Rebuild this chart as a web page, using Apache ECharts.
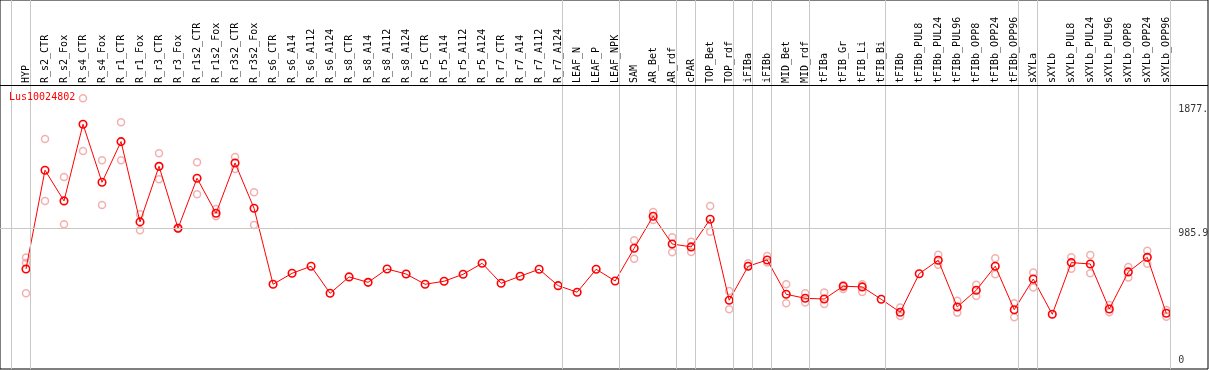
<!DOCTYPE html>
<html>
<head>
<meta charset="utf-8">
<script src="https://cdn.jsdelivr.net/npm/echarts@6/dist/echarts.min.js"></script>
<style>
html,body{margin:0;padding:0;background:#fff;}
#chart{width:1209px;height:370px;}
</style>
</head>
<body>
<div id="chart"></div>
<script>
const geneName = 'Lus10024802';
const categories = ['HYP','R_s2_CTR','R_s2_Fox','R_s4_CTR','R_s4_Fox','R_r1_CTR','R_r1_Fox','R_r3_CTR','R_r3_Fox','R_r1s2_CTR','R_r1s2_Fox','R_r3s2_CTR','R_r3s2_Fox','R_s6_CTR','R_s6_A14','R_s6_A112','R_s6_A124','R_s8_CTR','R_s8_A14','R_s8_A112','R_s8_A124','R_r5_CTR','R_r5_A14','R_r5_A112','R_r5_A124','R_r7_CTR','R_r7_A14','R_r7_A112','R_r7_A124','LEAF_N','LEAF_P','LEAF_NPK','SAM','AR_Bet','AR_rdf','cPAR','TOP_Bet','TOP_rdf','iFIBa','iFIBb','MID_Bet','MID_rdf','tFIBa','tFIB_Gr','tFIB_Li','tFIB_Bi','tFIBb','tFIBb_PUL8','tFIBb_PUL24','tFIBb_PUL96','tFIBb_OPP8','tFIBb_OPP24','tFIBb_OPP96','sXYLa','sXYLb','sXYLb_PUL8','sXYLb_PUL24','sXYLb_PUL96','sXYLb_OPP8','sXYLb_OPP24','sXYLb_OPP96'];
const mainValues = [693,1404,1183,1735,1317,1610,1032,1432,986,1346,1094,1456,1130,583,662,713,518,636,597,693,657,583,605,655,734,590,641,691,573,526,691,607,842,1073,873,852,1051,468,713,758,511,482,477,569,564,475,382,659,756,420,540,713,400,621,367,739,729,405,672,777,374];
const repHigh = [775,1629,1355,1922,1476,1749,1087,1526,990,1461,1125,1499,1245,null,null,null,null,null,null,null,null,null,null,null,null,null,null,null,null,null,null,null,900,1104,921,890,1147,535,734,787,583,518,523,578,583,null,415,null,796,465,580,770,446,667,null,777,794,434,708,825,398];
const repLow = [518,1183,1015,1543,1154,1476,972,1339,982,1231,1073,1413,1010,null,null,null,null,null,null,null,null,null,null,null,null,null,null,null,null,null,null,null,767,1046,813,816,962,403,715,739,446,451,441,549,528,null,355,null,724,379,499,655,346,559,null,695,662,382,631,731,350];
const repExtra = [736];
const tickValues = [0, 985.9, 1877];
const tickLabels = ['0', '985.9', '1877.'];
const groupEnds = [-1, 0, 28, 31, 34, 35, 37, 38, 39, 41, 45, 52, 53, 60];
const refLineValue = 985.9;

const mono = 'DejaVu Sans Mono';
const pinkPts = [];
[repHigh, repLow, repExtra].forEach(arr => arr.forEach((v, i) => { if (v != null) pinkPts.push([i, v]); }));
const mainPts = mainValues.map((v, i) => [i, v]);
const sepOffset = 0.23;
const xMin = -1.368, xMax = 62.194;
const lastSep = groupEnds[groupEnds.length - 1] + sepOffset;

const chart = echarts.init(document.getElementById('chart'), null, {renderer: 'canvas'});
chart.setOption({
  animation: false,
  backgroundColor: '#fff',
  title: {
    text: geneName, left: 9, top: 92, padding: 0,
    textStyle: {color: '#ff0000', fontSize: 10, fontWeight: 'normal', fontFamily: mono}
  },
  grid: [
    {left: 0, top: 0, right: 1, bottom: 1, show: true, borderColor: '#000', borderWidth: 1},
    {left: 26, right: 42.7, top: 85, height: 1}
  ],
  xAxis: [
    {type: 'value', gridIndex: 0, min: xMin, max: xMax, show: false},
    {type: 'category', gridIndex: 1, data: categories, boundaryGap: false, position: 'top',
     axisLine: {show: false}, axisTick: {show: false}, splitLine: {show: false},
     axisLabel: {rotate: 90, interval: 0, margin: 2, fontFamily: mono, fontSize: 10, color: '#000'}}
  ],
  yAxis: [
    {type: 'value', gridIndex: 0, min: -26.8, max: 2629.2, show: false},
    {type: 'value', gridIndex: 1, show: false}
  ],
  series: [
    {
      type: 'scatter', xAxisIndex: 0, yAxisIndex: 0, z: 2,
      data: pinkPts, symbol: 'circle', symbolSize: 7,
      itemStyle: {color: 'rgba(0,0,0,0)', borderColor: '#f09c9c', borderWidth: 1.5},
      markLine: {
        silent: true, symbol: 'none', animation: false, label: {show: false},
        data: [
          ...groupEnds.map(g => ({xAxis: g + sepOffset, lineStyle: {color: '#c8c8c8', width: 1, type: 'solid'}})),
          [{coord: [xMin, refLineValue], lineStyle: {color: '#c8c8c8', width: 1, type: 'solid'}}, {coord: [lastSep, refLineValue]}],
          {yAxis: 2017.3, lineStyle: {color: '#000', width: 1, type: 'solid'}}
        ]
      }
    },
    {
      type: 'line', xAxisIndex: 0, yAxisIndex: 0, z: 3,
      data: mainPts, symbol: 'circle', symbolSize: 7.5, showAllSymbol: true,
      lineStyle: {color: '#ff0000', width: 1},
      itemStyle: {color: 'rgba(0,0,0,0)', borderColor: '#ff0000', borderWidth: 1.6}
    },
    {
      type: 'scatter', xAxisIndex: 0, yAxisIndex: 0, z: 4, silent: true,
      symbolSize: 0,
      data: tickValues.map((v, i) => ({
        value: [60.63, v],
        label: {formatter: tickLabels[i], verticalAlign: v === 0 ? 'bottom' : 'top'}
      })),
      label: {show: true, position: [0, 0], align: 'left', fontFamily: mono, fontSize: 10, color: '#000'}
    }
  ]
});
</script>
</body>
</html>
